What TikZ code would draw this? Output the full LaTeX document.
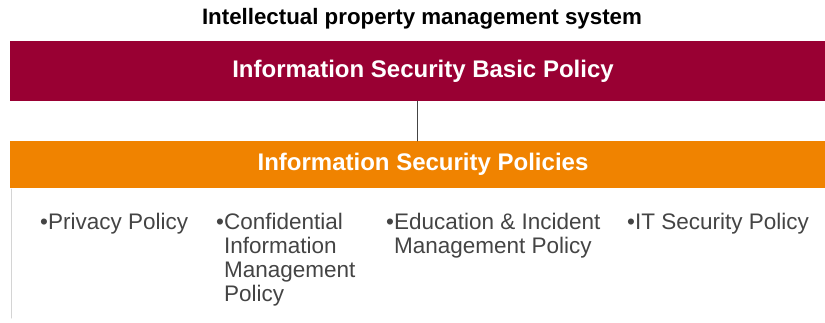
\documentclass[tikz,border=0pt]{standalone}
\usepackage{fontspec}
\setmainfont{Liberation Sans}
\definecolor{policyred}{HTML}{990033}
\definecolor{policyorange}{HTML}{F08300}
\definecolor{itemgray}{HTML}{444444}
\definecolor{edgegray}{HTML}{D4D4D4}
\tikzset{
  bar/.style={rectangle, minimum width=815pt, inner sep=0pt, text=white,
    font=\fontsize{24}{26}\selectfont\bfseries},
  item/.style={anchor=base west, inner sep=0pt, text=itemgray,
    font=\fontsize{22.5}{24}\selectfont}
}
\begin{document}
\begin{tikzpicture}[x=1pt,y=-1pt,line cap=round,line join=round]
  \useasboundingbox (0,0) rectangle (825,322);
  \node[font=\fontsize{22.3}{24}\selectfont\bfseries] (title) at (422,19) {Intellectual property management system};
  \node[bar, fill=policyred, minimum height=60pt] (basic) at (417.5,71) {\hspace*{11pt}Information Security Basic Policy};
  \node[bar, fill=policyorange, minimum height=47pt] (policies) at (417.5,164.5) {\hspace*{11pt}Information Security Policies};
  \draw[line width=1.2pt, itemgray] (basic) -- (policies);
  \draw[line width=1pt, edgegray] (11,189) -- (11,318);
  % policy list
  \node[item] (privacy) at (40,229) {\begin{tabular}[t]{@{}l@{}l@{}}\textbullet&Privacy Policy\end{tabular}};
  \node[item] (confidential) at (216,229) {\begin{tabular}[t]{@{}l@{}l@{}}\textbullet&Confidential\\&Information\\&Management\\&Policy\end{tabular}};
  \node[item] (education) at (386,229) {\begin{tabular}[t]{@{}l@{}l@{}}\textbullet&Education \& Incident\\&Management Policy\end{tabular}};
  \node[item] (itsec) at (627,229) {\begin{tabular}[t]{@{}l@{}l@{}}\textbullet&IT Security Policy\end{tabular}};
\end{tikzpicture}
\end{document}
